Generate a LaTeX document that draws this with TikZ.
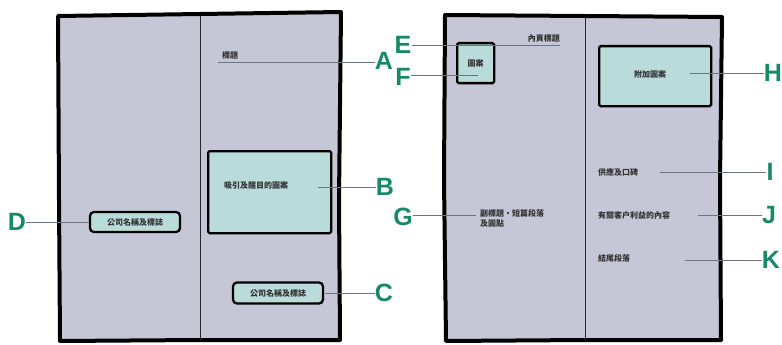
\documentclass[tikz,border=0pt]{standalone}
\usepackage{fontspec}
\setmainfont{Liberation Sans}
\newfontfamily\cjk{Noto Sans CJK TC}
\definecolor{panel}{HTML}{C6C7D6}
\definecolor{boxfill}{HTML}{B9DCDA}
\definecolor{lettergreen}{HTML}{17896B}
\definecolor{leader}{HTML}{707380}
\tikzset{
  sheet/.style={fill=panel, draw=black, line width=4pt, line join=round},
  foldline/.style={draw=black!85, line width=1pt},
  artbox/.style={fill=boxfill, draw=black, line width=2.3pt, rounded corners=1.5pt},
  tag/.style={font=\cjk\bfseries\fontsize{8}{10}\selectfont, inner sep=0pt, text=black!80},
  letter/.style={font=\bfseries\fontsize{25}{25}\selectfont, text=lettergreen, inner sep=0pt},
  leadline/.style={draw=leader, line width=0.8pt}
}
\begin{document}
\begin{tikzpicture}[x=1pt,y=-1pt]
\useasboundingbox (0,0) rectangle (782,345);
% ---------- left sheet ----------
\draw[sheet] (58,16) -- (200,14) -- (341,12) -- (339,200) -- (340,340) -- (200,340) -- (60,341) -- (59,200) -- cycle;
\draw[foldline] (200,16) -- (200,339);
% ---------- right sheet ----------
\draw[sheet] (445,15) -- (585,16) -- (722,17) -- (720,180) -- (721,340) -- (585,340) -- (446,341) -- (444,180) -- cycle;
\draw[foldline] (585,18) -- (585,339);

% ---------- boxes ----------
\node[artbox, minimum width=123pt, minimum height=82pt, anchor=north west] (bbox) at (207,150) {};
\node[tag] (btext) at (256,186) {吸引及醒目的圖案};
\node[artbox, minimum width=90pt, minimum height=21pt, rounded corners=4pt, inner sep=0pt] (cbox) at (278,293) {};
\node[tag] (ctext) at (cbox.center) {公司名稱及標誌};
\node[artbox, minimum width=90pt, minimum height=20pt, rounded corners=4pt, inner sep=0pt] (dbox) at (135,222) {};
\node[tag] (dtext) at (dbox.center) {公司名稱及標誌};
\node[artbox, minimum width=37pt, minimum height=40pt, anchor=north west] (fbox) at (456,42) {};
\node[tag] (ftext) at (fbox.center) {圖案};
\node[artbox, minimum width=112pt, minimum height=60pt, anchor=north west] (hbox) at (598,45) {};
\node[tag] (htext) at (650,74) {附加圖案};

% ---------- texts ----------
\node[tag, anchor=south west] (atext) at (222,60) {標題};
\node[tag, anchor=south east] (etext) at (560,43) {內頁標題};
\node[tag, anchor=north west, align=left] (gtext) at (480,209) {副標題・短篇段落\\及圓點};
\node[tag, anchor=west] (itext) at (598,172) {供應及口碑};
\node[tag, anchor=west] (jtext) at (598,215) {有關客户利益的內容};
\node[tag, anchor=west] (ktext) at (598,258) {結尾段落};

% ---------- letters ----------
\node[letter] (A) at (384,61) {A};
\node[letter] (B) at (385,187) {B};
\node[letter] (C) at (384,293) {C};
\node[letter] (D) at (17,222) {D};
\node[letter] (E) at (403,45) {E};
\node[letter] (F) at (403,77) {F};
\node[letter] (G) at (403,217) {G};
\node[letter] (H) at (773,73) {H};
\node[letter] (I) at (770,172) {I};
\node[letter] (J) at (769,215) {J};
\node[letter] (K) at (771,260) {K};

% ---------- leader start points ----------
\coordinate (a0) at (218,62);
\coordinate (b0) at (318,187);
\coordinate (c0) at (325,293);
\coordinate (e0) at (560,45);
\coordinate (f0) at (478,75);
\coordinate (g0) at (476,215);
\coordinate (h0) at (690,73);
\coordinate (i0) at (660,172);
\coordinate (j0) at (698,215);
\coordinate (k0) at (685,260);

% ---------- leaders ----------
\draw[leadline] (a0) -- (A.west |- a0);
\draw[leadline] (b0) -- (B.west |- b0);
\draw[leadline] (c0) -- (C.west |- c0);
\draw[leadline] (D.east) -- (dbox.west);
\draw[leadline] (E.east |- e0) -- (e0);
\draw[leadline] (F.east |- f0) -- (f0);
\draw[leadline] (G.east |- g0) -- (g0);
\draw[leadline] (h0) -- (H.west |- h0);
\draw[leadline] (i0) -- (I.west |- i0);
\draw[leadline] (j0) -- (J.west |- j0);
\draw[leadline] (k0) -- (K.west |- k0);
\end{tikzpicture}
\end{document}
